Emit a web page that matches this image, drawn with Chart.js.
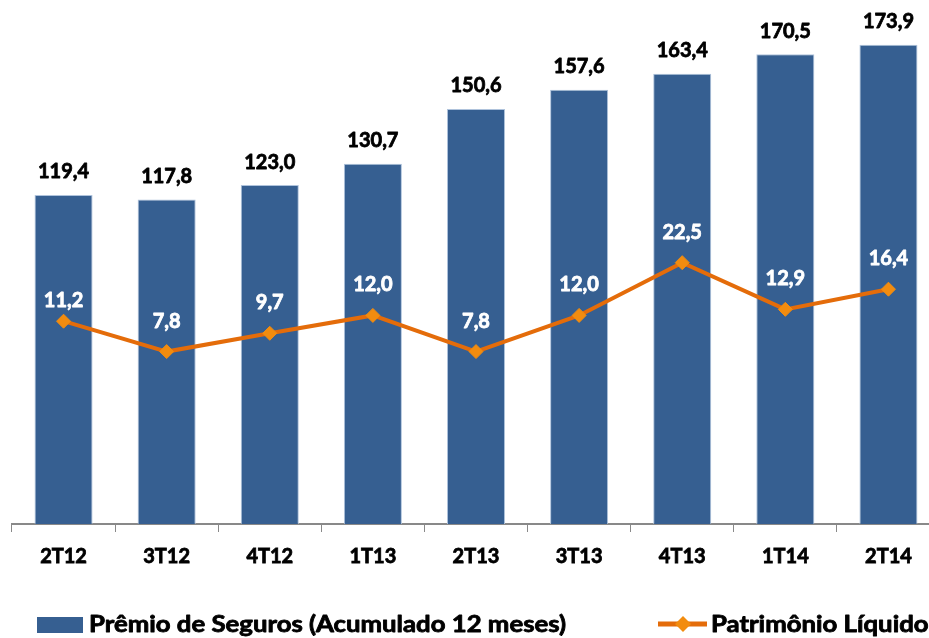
<!DOCTYPE html>
<html>
<head>
<meta charset="utf-8">
<script src="https://cdn.jsdelivr.net/npm/chart.js@4/dist/chart.umd.min.js"></script>
<style>
  html, body { margin: 0; padding: 0; background: #fff; overflow: hidden; }
  #wrap { position: absolute; left: 0; top: 0; width: 960px; height: 638px; }
</style>
</head>
<body>
<div id="wrap"><canvas id="c" width="960" height="638"></canvas></div>
<script>
// ---- data ----
const categories = ['2T12', '3T12', '4T12', '1T13', '2T13', '3T13', '4T13', '1T14', '2T14'];
const premioSeguros = [119.4, 117.8, 123.0, 130.7, 150.6, 157.6, 163.4, 170.5, 173.9];
const patrimonioLiquido = [11.2, 7.8, 9.7, 12.0, 7.8, 12.0, 22.5, 12.9, 16.4];
const seriesNames = ['Prêmio de Seguros (Acumulado 12 meses)', 'Patrimônio Líquido'];

// ---- styles ----
const BAR_COLOR = '#365F91';
const LINE_COLOR = '#E46C0A';
const MARKER_COLOR = '#F28C0F';
const FONT = 'Lato, "Open Sans", sans-serif';
const lineLabelOffsets = [21, 30, 31, 31, 30, 31, 30, 31, 31];

const fmt = v => v.toFixed(1).replace('.', ',');

function boldText(ctx, text, x, y, color) {
  ctx.fillStyle = color;
  ctx.strokeStyle = color;
  ctx.lineWidth = 0.8;
  ctx.lineJoin = 'round';
  ctx.fillText(text, x, y);
  ctx.strokeText(text, x, y);
}

const labelPlugin = {
  id: 'valueLabels',
  afterDatasetsDraw(chart) {
    const ctx = chart.ctx;
    ctx.save();
    ctx.font = 'bold 20px ' + FONT;
    ctx.textAlign = 'center';
    ctx.textBaseline = 'middle';
    const barMeta = chart.getDatasetMeta(1);
    barMeta.data.forEach((el, i) => {
      boldText(ctx, fmt(chart.data.datasets[1].data[i]), el.x, el.y - 23, '#000');
    });
    const lineMeta = chart.getDatasetMeta(0);
    lineMeta.data.forEach((el, i) => {
      boldText(ctx, fmt(chart.data.datasets[0].data[i]), el.x, el.y - lineLabelOffsets[i], '#fff');
    });
    ctx.restore();
  }
};

const legendPlugin = {
  id: 'customLegend',
  afterDraw(chart) {
    const ctx = chart.ctx;
    const ds = chart.data.datasets;
    ctx.save();
    ctx.font = 'bold 22px ' + FONT;
    ctx.textAlign = 'left';
    ctx.textBaseline = 'middle';
    const sx = 477 / ctx.measureText(ds[1].label).width;
    // bar series
    ctx.fillStyle = ds[1].backgroundColor;
    ctx.fillRect(37, 617, 46, 16);
    ctx.save();
    ctx.translate(89, 625);
    ctx.scale(sx, 1);
    boldText(ctx, ds[1].label, 0, 0, '#000');
    ctx.restore();
    // line series
    ctx.strokeStyle = ds[0].borderColor;
    ctx.lineWidth = 5;
    ctx.beginPath();
    ctx.moveTo(658, 624);
    ctx.lineTo(707, 624);
    ctx.stroke();
    ctx.fillStyle = ds[0].pointBackgroundColor;
    ctx.beginPath();
    ctx.moveTo(683 - 8, 624);
    ctx.lineTo(683, 616);
    ctx.lineTo(683 + 8, 624);
    ctx.lineTo(683, 632);
    ctx.closePath();
    ctx.fill();
    ctx.save();
    ctx.translate(711, 625);
    ctx.scale(sx, 1);
    boldText(ctx, ds[0].label, 0, 0, '#000');
    ctx.restore();
    ctx.restore();
  }
};

new Chart(document.getElementById('c'), {
  data: {
    labels: categories,
    datasets: [
      {
        type: 'line',
        label: seriesNames[1],
        data: patrimonioLiquido,
        yAxisID: 'y1',
        borderColor: LINE_COLOR,
        borderWidth: 4,
        pointStyle: 'rectRot',
        pointRadius: 7,
        pointBackgroundColor: MARKER_COLOR,
        pointBorderColor: MARKER_COLOR,
        pointBorderWidth: 1,
        tension: 0,
        order: 0
      },
      {
        type: 'bar',
        label: seriesNames[0],
        data: premioSeguros,
        yAxisID: 'y',
        backgroundColor: BAR_COLOR,
        borderColor: '#AFC3DC',
        borderWidth: 1,
        categoryPercentage: 1,
        barPercentage: 0.563,
        order: 1
      }
    ]
  },
  options: {
    responsive: false,
    animation: false,
    events: [],
    layout: { padding: { left: 12, right: 20, top: 28, bottom: 0 } },
    plugins: { legend: { display: false }, tooltip: { enabled: false } },
    scales: {
      x: {
        offset: true,
        afterFit(scale) { scale.height = 114; },
        grid: { display: true, drawOnChartArea: false, drawTicks: true, tickLength: 8, color: '#898989', lineWidth: 1, offset: true },
        border: { display: true, color: '#898989', width: 2 },
        ticks: { color: '#000', textStrokeColor: '#000', textStrokeWidth: 0.8, font: { family: FONT, size: 20, weight: 'bold' }, padding: 13, maxRotation: 0 }
      },
      y: { display: false, min: 0, max: 180 },
      y1: { display: false, type: 'logarithmic', min: 1, max: 368.3 }
    }
  },
  plugins: [labelPlugin, legendPlugin]
});
</script>
</body>
</html>
